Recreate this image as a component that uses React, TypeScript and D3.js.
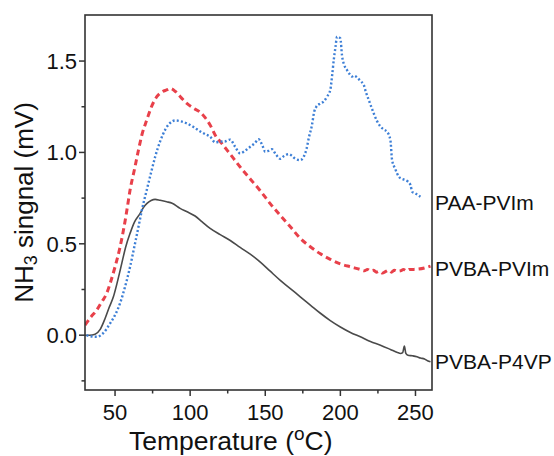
import React from "react";
import * as d3 from "d3";

const blackT = [30, 33, 36.7, 40, 43.3, 46, 48.9, 51.5, 54.4, 57, 60, 63, 66.7, 69, 71.1, 74, 76.7, 80, 84.4, 88, 93.3, 98, 103.3, 108, 113.3, 120, 126.7, 133.3, 140, 146.7, 153.3, 160, 166.7, 173.3, 180, 186.7, 193.3, 200, 206.7, 213.3, 220, 226.7, 233.3, 238, 240, 241.5, 242.6, 243.6, 245, 248, 251, 253.3, 256, 258, 260];
const blackV = [0.0, 0.0, 0.005, 0.03, 0.09, 0.15, 0.21, 0.29, 0.39, 0.48, 0.557, 0.62, 0.666, 0.7, 0.72, 0.737, 0.743, 0.738, 0.73, 0.722, 0.694, 0.675, 0.652, 0.62, 0.584, 0.55, 0.518, 0.48, 0.443, 0.4, 0.35, 0.3, 0.255, 0.21, 0.165, 0.12, 0.08, 0.045, 0.015, -0.009, -0.035, -0.055, -0.078, -0.095, -0.1, -0.095, -0.06, -0.1, -0.11, -0.113, -0.118, -0.125, -0.13, -0.14, -0.146];

const redT = [30, 34, 37.8, 41, 44.4, 47, 50, 53, 55.6, 58, 60, 63, 65.6, 68, 71.1, 74, 77.8, 81, 84.4, 87, 90, 94, 97.8, 102, 106.7, 110, 113.3, 117, 120, 126.7, 133.3, 140, 146.7, 153.3, 160, 166.7, 173.3, 180, 186.7, 193.3, 200, 206.7, 213, 216, 218, 220, 222, 224, 226, 228, 230, 232, 234, 236, 238, 240, 242, 244, 246, 248.9, 252, 256, 260];
const redV = [0.055, 0.1, 0.137, 0.18, 0.228, 0.29, 0.374, 0.47, 0.575, 0.69, 0.794, 0.91, 1.013, 1.1, 1.177, 1.245, 1.305, 1.33, 1.342, 1.35, 1.335, 1.3, 1.268, 1.243, 1.22, 1.19, 1.15, 1.09, 1.06, 0.99, 0.92, 0.855, 0.79, 0.72, 0.655, 0.593, 0.53, 0.484, 0.445, 0.415, 0.39, 0.374, 0.36, 0.352, 0.36, 0.352, 0.355, 0.345, 0.35, 0.34, 0.348, 0.355, 0.345, 0.355, 0.35, 0.352, 0.36, 0.352, 0.36, 0.36, 0.362, 0.368, 0.378];

const blueT = [31, 33, 37.8, 42, 46.7, 50, 53.3, 56.5, 60, 63, 65.6, 68, 71.1, 74, 76.7, 80, 83.3, 86.5, 90, 94, 97.8, 102, 106.7, 110, 113.3, 116.7, 120, 123, 126.7, 130, 133.3, 136.7, 140, 143, 145.6, 148, 150, 152, 154.4, 157, 160, 162.5, 165.6, 168, 170, 173.3, 175.5, 177.5, 179, 181.1, 182.5, 184, 186.7, 189, 191.1, 193.3, 194.5, 195.6, 196.8, 197.8, 199, 200, 201.1, 202.5, 204.4, 206, 207.8, 209, 211.1, 213.5, 215.6, 217, 218.9, 222.2, 224.5, 226.7, 229, 231.1, 233.3, 234.4, 236.5, 238.9, 241, 243.3, 245, 246.7, 247.8, 250, 253.3];
const blueV = [0.0, -0.005, -0.009, 0.01, 0.064, 0.11, 0.174, 0.26, 0.374, 0.49, 0.593, 0.69, 0.794, 0.89, 0.976, 1.06, 1.123, 1.16, 1.175, 1.17, 1.159, 1.14, 1.115, 1.1, 1.086, 1.055, 1.059, 1.06, 1.07, 1.03, 0.995, 1.01, 1.031, 1.05, 1.072, 1.04, 1.004, 1.008, 1.018, 0.99, 0.965, 0.98, 0.991, 0.98, 0.965, 0.958, 0.975, 1.02, 1.08, 1.15, 1.22, 1.25, 1.268, 1.28, 1.305, 1.342, 1.42, 1.506, 1.58, 1.634, 1.63, 1.624, 1.53, 1.48, 1.451, 1.43, 1.415, 1.42, 1.411, 1.39, 1.369, 1.33, 1.287, 1.214, 1.17, 1.141, 1.125, 1.113, 1.068, 0.96, 0.91, 0.867, 0.855, 0.849, 0.84, 0.821, 0.785, 0.775, 0.757];

const xMajor = [50, 100, 150, 200, 250];
const xMinor = [75, 125, 175, 225];
const yMajor = [0, 0.5, 1.0, 1.5];
const yMinor = [-0.25, 0.25, 0.75, 1.25];

const seriesNames = ["PAA-PVIm", "PVBA-PVIm", "PVBA-P4VP"];
const labelAnchors = [0.73, 0.37, -0.14];

const W = 554, H = 456;
const L = 85, R = 432, T = 15, B = 390;
const FONT = "'Liberation Sans', Arial, sans-serif";
const AX = "#333";

export default function App() {
  const x = d3.scaleLinear().domain([30, 261]).range([L, R]);
  const y = d3.scaleLinear().domain([-0.3, 1.752]).range([B, T]);
  const line = d3.line<[number, number]>().x(d => x(d[0])).y(d => y(d[1])).curve(d3.curveMonotoneX);
  const zip = (t: number[], v: number[]) => t.map((tt, i) => [tt, v[i]] as [number, number]);

  const black = zip(blackT, blackV);
  const red = zip(redT, redV);
  const blue = zip(blueT, blueV);

  return (
    <svg width={W} height={H} style={{ position: "absolute", left: 0, top: 0, background: "#fff" }} fontFamily={FONT}>
      <rect x={0} y={0} width={W} height={H} fill="#fff" />
      <defs>
        <clipPath id="plot">
          <rect x={L} y={T} width={R - L} height={B - T} />
        </clipPath>
      </defs>
      <g clipPath="url(#plot)">
        <path d={line(black) || ""} fill="none" stroke="#4a4a4a" strokeWidth={1.6} />
        <path d={line(red) || ""} fill="none" stroke="#e8404a" strokeWidth={3} strokeDasharray="6,4" />
        <path d={line(blue) || ""} fill="none" stroke="#3d7fd6" strokeWidth={2.4} strokeDasharray="2,2.2" />
      </g>
      <rect x={L} y={T} width={R - L} height={B - T} fill="none" stroke={AX} strokeWidth={1.6} />
      {xMajor.map(v => (
        <g key={"xm" + v}>
          <line x1={x(v)} x2={x(v)} y1={B} y2={B + 6} stroke={AX} strokeWidth={1.5} />
          <text x={x(v)} y={420} fontSize={22} textAnchor="middle" fill="#111">{v}</text>
        </g>
      ))}
      {xMinor.map(v => (
        <line key={"xn" + v} x1={x(v)} x2={x(v)} y1={B} y2={B + 3.5} stroke={AX} strokeWidth={1.5} />
      ))}
      {yMajor.map(v => (
        <g key={"ym" + v}>
          <line x1={L - 6} x2={L} y1={y(v)} y2={y(v)} stroke={AX} strokeWidth={1.5} />
          <text x={77} y={y(v) + 7.8} fontSize={22} textAnchor="end" fill="#111">{v.toFixed(1)}</text>
        </g>
      ))}
      {yMinor.map(v => (
        <line key={"yn" + v} x1={L - 3.5} x2={L} y1={y(v)} y2={y(v)} stroke={AX} strokeWidth={1.5} />
      ))}
      <text x={129} y={450} fontSize={26.5} fill="#111">
        Temperature (<tspan fontSize={19} dy={-10}>o</tspan><tspan dy={10}>C)</tspan>
      </text>
      <text transform={`translate(33,${(T + B) / 2}) rotate(-90)`} fontSize={26} textAnchor="middle" fill="#111">
        NH<tspan fontSize={18} dy={4}>3</tspan><tspan dy={-4}> singnal (mV)</tspan>
      </text>
      {seriesNames.map((n, i) => (
        <text key={n} x={435} y={y(labelAnchors[i]) + 8} fontSize={21} fill="#111">{n}</text>
      ))}
    </svg>
  );
}
